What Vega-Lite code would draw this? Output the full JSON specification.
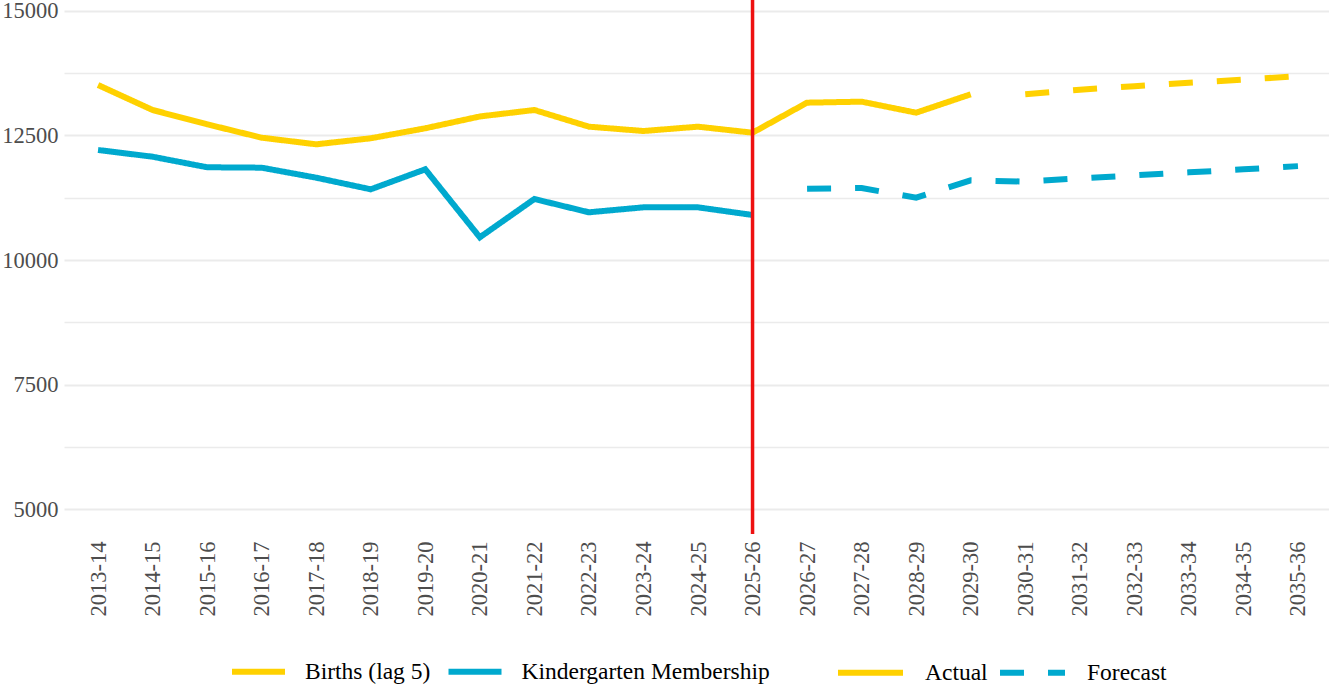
{
  "$schema": "https://vega.github.io/schema/vega-lite/v6.json",
  "autosize": {"type": "none"},
  "padding": {"left": 64, "top": 0, "right": 0, "bottom": 154},
  "width": 1268,
  "height": 534,
  "background": "white",
  "config": {
    "view": {"stroke": null},
    "font": "Liberation Serif"
  },
  "data": {
    "values": [
      {"year": "2013-14", "series": "Births (lag 5)", "type": "Actual", "value": 13514},
      {"year": "2014-15", "series": "Births (lag 5)", "type": "Actual", "value": 13012},
      {"year": "2015-16", "series": "Births (lag 5)", "type": "Actual", "value": 12725},
      {"year": "2016-17", "series": "Births (lag 5)", "type": "Actual", "value": 12456},
      {"year": "2017-18", "series": "Births (lag 5)", "type": "Actual", "value": 12323},
      {"year": "2018-19", "series": "Births (lag 5)", "type": "Actual", "value": 12444},
      {"year": "2019-20", "series": "Births (lag 5)", "type": "Actual", "value": 12645},
      {"year": "2020-21", "series": "Births (lag 5)", "type": "Actual", "value": 12882},
      {"year": "2021-22", "series": "Births (lag 5)", "type": "Actual", "value": 13012},
      {"year": "2022-23", "series": "Births (lag 5)", "type": "Actual", "value": 12677},
      {"year": "2023-24", "series": "Births (lag 5)", "type": "Actual", "value": 12590},
      {"year": "2024-25", "series": "Births (lag 5)", "type": "Actual", "value": 12677},
      {"year": "2025-26", "series": "Births (lag 5)", "type": "Actual", "value": 12556},
      {"year": "2026-27", "series": "Births (lag 5)", "type": "Actual", "value": 13159},
      {"year": "2027-28", "series": "Births (lag 5)", "type": "Actual", "value": 13179},
      {"year": "2028-29", "series": "Births (lag 5)", "type": "Actual", "value": 12958},
      {"year": "2029-30", "series": "Births (lag 5)", "type": "Actual", "value": 13327},
      {"year": "2030-31", "series": "Births (lag 5)", "type": "Forecast", "value": 13330},
      {"year": "2031-32", "series": "Births (lag 5)", "type": "Forecast", "value": 13420},
      {"year": "2032-33", "series": "Births (lag 5)", "type": "Forecast", "value": 13490},
      {"year": "2033-34", "series": "Births (lag 5)", "type": "Forecast", "value": 13560},
      {"year": "2034-35", "series": "Births (lag 5)", "type": "Forecast", "value": 13620},
      {"year": "2035-36", "series": "Births (lag 5)", "type": "Forecast", "value": 13690},
      {"year": "2013-14", "series": "Kindergarten Membership", "type": "Actual", "value": 12209},
      {"year": "2014-15", "series": "Kindergarten Membership", "type": "Actual", "value": 12074},
      {"year": "2015-16", "series": "Kindergarten Membership", "type": "Actual", "value": 11862},
      {"year": "2016-17", "series": "Kindergarten Membership", "type": "Actual", "value": 11854},
      {"year": "2017-18", "series": "Kindergarten Membership", "type": "Actual", "value": 11653},
      {"year": "2018-19", "series": "Kindergarten Membership", "type": "Actual", "value": 11420},
      {"year": "2019-20", "series": "Kindergarten Membership", "type": "Actual", "value": 11821},
      {"year": "2020-21", "series": "Kindergarten Membership", "type": "Actual", "value": 10456},
      {"year": "2021-22", "series": "Kindergarten Membership", "type": "Actual", "value": 11225},
      {"year": "2022-23", "series": "Kindergarten Membership", "type": "Actual", "value": 10958},
      {"year": "2023-24", "series": "Kindergarten Membership", "type": "Actual", "value": 11058},
      {"year": "2024-25", "series": "Kindergarten Membership", "type": "Actual", "value": 11058},
      {"year": "2025-26", "series": "Kindergarten Membership", "type": "Actual", "value": 10904},
      {"year": "2026-27", "series": "Kindergarten Membership", "type": "Forecast", "value": 11432},
      {"year": "2027-28", "series": "Kindergarten Membership", "type": "Forecast", "value": 11445},
      {"year": "2028-29", "series": "Kindergarten Membership", "type": "Forecast", "value": 11251},
      {"year": "2029-30", "series": "Kindergarten Membership", "type": "Forecast", "value": 11600},
      {"year": "2030-31", "series": "Kindergarten Membership", "type": "Forecast", "value": 11575},
      {"year": "2031-32", "series": "Kindergarten Membership", "type": "Forecast", "value": 11640},
      {"year": "2032-33", "series": "Kindergarten Membership", "type": "Forecast", "value": 11700},
      {"year": "2033-34", "series": "Kindergarten Membership", "type": "Forecast", "value": 11760},
      {"year": "2034-35", "series": "Kindergarten Membership", "type": "Forecast", "value": 11820},
      {"year": "2035-36", "series": "Kindergarten Membership", "type": "Forecast", "value": 11885}
    ]
  },
  "encoding": {
    "x": {
      "field": "year", "type": "ordinal",
      "scale": {"type": "point", "padding": 0.624},
      "axis": {
        "title": null, "labelAngle": -90, "labelFontSize": 22.5, "labelColor": "#4d4d4d",
        "labelPadding": 7, "ticks": false, "domain": false, "grid": false,
        "labelFont": "Liberation Serif", "labelAlign": "right", "labelBaseline": "middle"
      }
    }
  },
  "layer": [
    {
      "mark": {"type": "line", "strokeWidth": 6, "strokeCap": "butt"},
      "encoding": {
        "y": {
          "field": "value", "type": "quantitative",
          "scale": {"domain": [4500, 15220], "nice": false, "zero": false},
          "axis": {
            "title": null, "values": [5000, 6250, 7500, 8750, 10000, 11250, 12500, 13750, 15000],
            "labelExpr": "datum.value % 2500 === 0 ? datum.label : ''",
            "format": "d",
            "labelFontSize": 22.5, "labelColor": "#4d4d4d", "labelPadding": 6,
            "labelFont": "Liberation Serif",
            "ticks": false, "domain": false, "grid": true, "gridColor": "#EBEBEB",
            "gridWidth": {"condition": {"test": "datum.value % 2500 === 0", "value": 1.8}, "value": 1.3}
          }
        },
        "color": {
          "field": "series", "type": "nominal",
          "scale": {"domain": ["Births (lag 5)", "Kindergarten Membership"], "range": ["#FFD100", "#00A9CE"]},
          "legend": {
            "title": null, "orient": "none", "legendX": 165, "legendY": 642,
            "direction": "horizontal", "symbolType": "stroke", "symbolSize": 2809,
            "symbolStrokeWidth": 6, "labelFontSize": 23.5, "labelColor": "black",
            "labelFont": "Liberation Serif", "labelOffset": 17, "columnPadding": 5.5, "padding": 0,
            "labelLimit": 500
          }
        },
        "strokeDash": {
          "field": "type", "type": "nominal",
          "scale": {"domain": ["Actual", "Forecast"], "range": [[1, 0], [24, 24]]},
          "legend": {
            "title": null, "orient": "none", "legendX": 771, "legendY": 637,
            "direction": "horizontal", "symbolType": "stroke", "symbolSize": 4225,
            "symbolStrokeWidth": 6, "labelFontSize": 23.5, "labelColor": "black",
            "labelFont": "Liberation Serif", "labelOffset": 19, "columnPadding": 0, "padding": 0,
            "labelLimit": 500,
            "encode": {"symbols": {"update": {"stroke": {"signal": "datum.value === 'Actual' ? '#FFD100' : '#00A9CE'"}}}}
          }
        }
      }
    },
    {
      "data": {"values": [{"year": "2025-26"}]},
      "mark": {"type": "rule", "color": "#EE1111", "strokeWidth": 3.5},
      "encoding": {"x": {"field": "year", "type": "ordinal"}}
    }
  ]
}
